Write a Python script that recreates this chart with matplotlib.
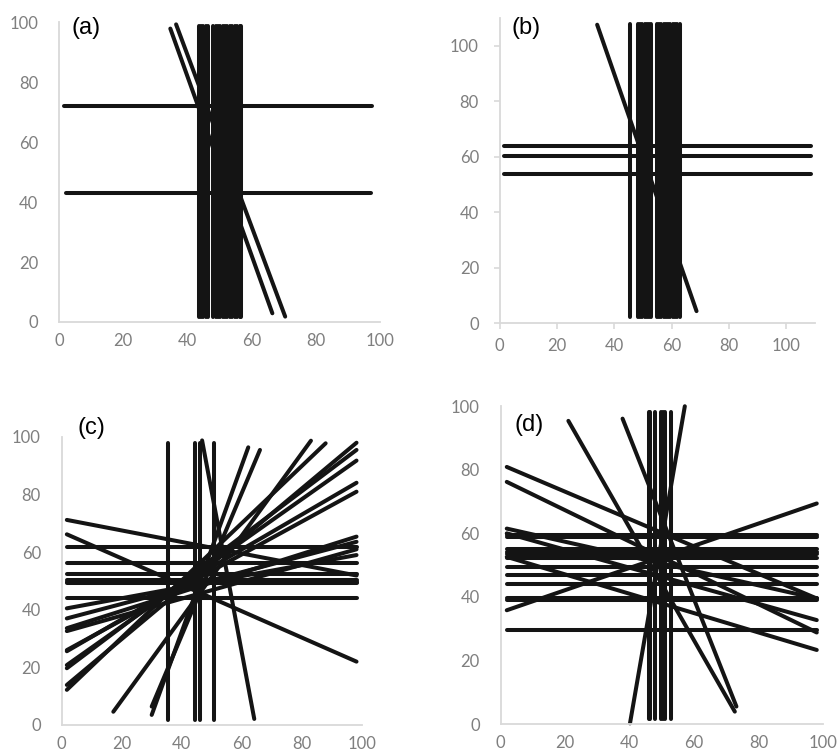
import matplotlib
matplotlib.use("Agg")
import matplotlib.pyplot as plt

# panel (a)
a_hz_y = [72.1, 43.1]
a_hz_x = [(1.6, 97.6), (2.1, 97.1)]
a_vt_x = [43.5, 44.2, 45.0, 45.8, 46.3, 48.0, 48.8, 49.5, 50.3, 51.0,
          51.8, 52.5, 53.2, 54.0, 54.8, 55.5, 56.3, 56.8]
a_vt_y = (1.8, 98.7)
a_dg_start = [(34.7, 97.9), (36.5, 99.3)]
a_dg_end = [(66.5, 2.9), (70.5, 1.8)]

# panel (b)
b_hz_y = [64.0, 60.4, 53.9]
b_hz_x = [(1.5, 108.8)] * 3
b_vt_x = [45.3, 48.3, 49.0, 49.8, 50.6, 51.4, 52.2, 52.8,
          54.8, 55.6, 56.4, 57.2, 58.0, 58.8, 59.6, 60.4, 61.2, 62.0, 62.9]
b_vt_y = (2.3, 108.0)
b_dg_start = [(34.0, 107.6)]
b_dg_end = [(68.7, 4.3)]

# panel (c)
c_hz_y = [61.9, 56.1, 52.4, 50.5, 49.8, 49.2, 44.0]
c_hz_x = [(1.7, 98.3)] * 7
c_vt_x = [35.5, 44.3, 46.2, 50.7]
c_vt_y = (1.7, 98.0)
c_dg_start = [(1.7, 71.2), (1.7, 66.2), (46.8, 98.8), (1.7, 40.5),
              (1.7, 37.0), (1.7, 33.6), (1.7, 32.6), (1.7, 26.0),
              (1.7, 25.6), (1.7, 20.8), (1.7, 19.7), (1.7, 13.9),
              (1.7, 12.2), (17.2, 4.6), (30.0, 3.5), (30.0, 6.4)]
c_dg_end = [(98.3, 51.9), (98.3, 22.0), (64.2, 2.1), (98.3, 59.0),
            (98.3, 63.6), (98.3, 65.4), (98.3, 61.0), (98.3, 81.0),
            (98.3, 84.1), (98.3, 91.8), (98.3, 95.5), (98.3, 98.0),
            (88.0, 97.8), (83.1, 98.7), (62.2, 96.4), (66.1, 95.5)]

# panel (d)
d_hz_y = [59.5, 58.8, 55.0, 54.1, 53.6, 52.1, 49.3, 46.8, 44.0, 39.7, 39.0, 29.6]
d_hz_x = [(1.9, 98.0)] * 12
d_vt_x = [45.9, 46.4, 47.7, 49.7, 50.3, 50.9, 52.7]
d_vt_y = (1.5, 98.2)
d_dg_start = [(40.1, 0.2), (21.0, 95.4), (37.8, 96.1), (1.9, 80.9),
              (1.9, 76.2), (1.9, 35.8), (1.9, 61.5), (1.9, 60.0), (1.9, 52.6)]
d_dg_end = [(57.1, 100.0), (72.6, 3.9), (73.1, 5.5), (98.0, 39.5),
            (98.0, 28.8), (98.0, 69.4), (98.0, 39.5), (98.0, 32.7), (98.0, 23.3)]

tick_vals = [0, 20, 40, 60, 80, 100]

plt.rcParams['font.family'] = ['Lato', 'DejaVu Sans']

LINE_KW = dict(color='#141414', lw=2.9, solid_capstyle='round', clip_on=False)


def draw_panel(ax, hz_y, hz_x, vt_x, vt_y, dg_start, dg_end):
    for y, (x0, x1) in zip(hz_y, hz_x):
        ax.plot([x0, x1], [y, y], **LINE_KW)
    for x in vt_x:
        ax.plot([x, x], list(vt_y), **LINE_KW)
    for (x0, y0), (x1, y1) in zip(dg_start, dg_end):
        ax.plot([x0, x1], [y0, y1], **LINE_KW)


def style_axes(ax, xmax, ymax, tick_len=0):
    ax.set_xlim(0, xmax)
    ax.set_ylim(0, ymax)
    ax.set_xticks(tick_vals)
    ax.set_yticks(tick_vals)
    for s in ['top', 'right']:
        ax.spines[s].set_visible(False)
    for s in ['left', 'bottom']:
        ax.spines[s].set_color('#d9d9d9')
        ax.spines[s].set_linewidth(1.3)
    ax.tick_params(labelcolor='#7f7f7f', color='#d9d9d9', labelsize=12,
                   length=tick_len, width=1.2)
    ax.tick_params(axis='y', pad=15 - tick_len)
    ax.tick_params(axis='x', pad=8 - tick_len * 0.3)


fig = plt.figure(figsize=(8.4, 7.53), dpi=100)
ax_a = fig.add_axes([0.0702, 0.5724, 0.382, 0.398])
ax_b = fig.add_axes([0.595, 0.571, 0.375, 0.405])
ax_c = fig.add_axes([0.0735, 0.0372, 0.357, 0.3825])
ax_d = fig.add_axes([0.596, 0.0385, 0.384, 0.422])

draw_panel(ax_a, a_hz_y, a_hz_x, a_vt_x, a_vt_y, a_dg_start, a_dg_end)
draw_panel(ax_b, b_hz_y, b_hz_x, b_vt_x, b_vt_y, b_dg_start, b_dg_end)
draw_panel(ax_c, c_hz_y, c_hz_x, c_vt_x, c_vt_y, c_dg_start, c_dg_end)
draw_panel(ax_d, d_hz_y, d_hz_x, d_vt_x, d_vt_y, d_dg_start, d_dg_end)

style_axes(ax_a, 100, 100)
style_axes(ax_b, 110, 110, tick_len=4)
style_axes(ax_c, 100, 100)
style_axes(ax_d, 100, 100)

lab_kw = dict(fontsize=17, family=['Liberation Sans', 'DejaVu Sans'],
              ha='left', va='center', color='black')
ax_a.text(4.0, 98, '(a)', **lab_kw)
ax_b.text(4.2, 106.5, '(b)', **lab_kw)
ax_c.text(5.1, 103, '(c)', **lab_kw)
ax_d.text(4.4, 94, '(d)', **lab_kw)

fig.savefig('out.png', dpi=100)
